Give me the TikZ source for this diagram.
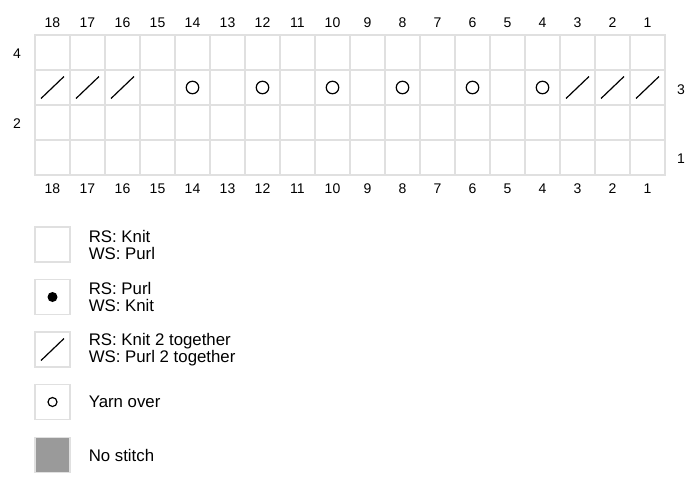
\documentclass[tikz,border=0pt]{standalone}
\usepackage{fontspec}
\setmainfont{Liberation Sans}
\usetikzlibrary{positioning}
\definecolor{gridgray}{HTML}{E0E0E0}
\definecolor{nostitch}{HTML}{9A9A9A}

\begin{document}
\begin{tikzpicture}[x=1pt,y=-1pt]

\tikzset{cell/.style = {shape=rectangle,draw=gridgray,line width=1.2pt,minimum size=35pt,inner sep=0pt}}
\tikzset{num/.style = {font=\fontsize{14}{15}\selectfont,inner sep=0pt}}
\tikzset{yo/.style = {shape=circle,draw,line width=1.2pt,minimum size=12.5pt,inner sep=0pt}}
\tikzset{k2tog/.style = {line width=1.2pt}}
\tikzset{legtext/.style = {font=\fontsize{16.8}{17}\selectfont,align=left,inner sep=0pt,anchor=west}}

\useasboundingbox (0,0) rectangle (700,490);

% chart cells, column 18 on the left, row 1 at the bottom
\foreach \c in {1,...,18}
  \foreach \r in {1,...,4}
    \node[cell] (c\c r\r) at ({665-(\c-0.5)*35},{175-(\r-0.5)*35}) {};

% column numbers
\foreach \c in {1,...,18} {
  \node[num] (top\c) at ({665-(\c-0.5)*35},23) {\c};
  \node[num] (bot\c) at ({665-(\c-0.5)*35},189) {\c};
}

% row numbers
\node[num] (row4) at (17,54) {4};
\node[num] (row2) at (17,124) {2};
\node[num] (row3) at (681,90) {3};
\node[num] (row1) at (681,159) {1};

% row 3
\foreach \c in {18,17,16,3,2,1}
  \draw[k2tog] ([shift={(-11.5,11)}]c\c r3.center) -- ([shift={(11.5,-11)}]c\c r3.center);
\foreach \c in {14,12,10,8,6,4}
  \node[yo] (yo\c) at (c\c r3) {};

% legend
\node[cell] (lgknit) at (52.5,244.5) {};
\node[legtext,right=18pt of lgknit] (txknit) {RS: Knit\\WS: Purl};

\node[cell] (lgpurl) at (52.5,297) {};
\fill (lgpurl.center) circle (5pt);
\node[legtext,right=18pt of lgpurl] (txpurl) {RS: Purl\\WS: Knit};

\node[cell] (lgktog) at (52.5,349.5) {};
\draw[k2tog] ([shift={(-11.5,11)}]lgktog.center) -- ([shift={(11.5,-11)}]lgktog.center);
\node[legtext,right=18pt of lgktog] (txktog) {RS: Knit 2 together\\WS: Purl 2 together};

\node[cell] (lgyo) at (52.5,402) {};
\node[yo,minimum size=9pt] (lgyomark) at (lgyo) {};
\node[legtext,right=18pt of lgyo] (txyo) {Yarn over};

\node[cell,fill=nostitch] (lgnone) at (52.5,455) {};
\node[legtext,right=18pt of lgnone] (txnone) {No stitch};

\end{tikzpicture}
\end{document}
